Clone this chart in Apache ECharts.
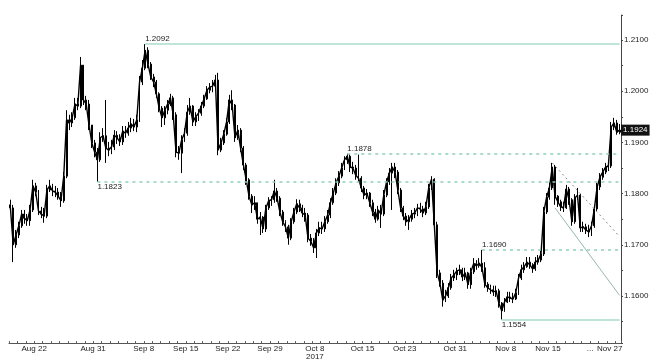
<!DOCTYPE html>
<html><head><meta charset="utf-8">
<script src="https://cdn.jsdelivr.net/npm/echarts/dist/echarts.min.js"></script>
<style>html,body{margin:0;padding:0;background:#fff}#c{width:658px;height:362px}</style>
</head><body><div id="c"></div>
<script>
const days = ['Aug 17','Aug 18','Aug 21','Aug 22','Aug 23','Aug 24','Aug 25','Aug 28','Aug 29','Aug 30','Aug 31',
'Sep 1','Sep 4','Sep 5','Sep 6','Sep 7','Sep 8','Sep 11','Sep 12','Sep 13','Sep 14','Sep 15','Sep 18','Sep 19','Sep 20','Sep 21','Sep 22','Sep 25','Sep 26','Sep 27','Sep 28','Sep 29',
'Oct 2','Oct 3','Oct 4','Oct 5','Oct 6','Oct 9','Oct 10','Oct 11','Oct 12','Oct 13','Oct 16','Oct 17','Oct 18','Oct 19','Oct 20','Oct 23','Oct 24','Oct 25','Oct 26','Oct 27','Oct 30','Oct 31',
'Nov 1','Nov 2','Nov 3','Nov 6','Nov 7','Nov 8','Nov 9','Nov 10','Nov 13','Nov 14','Nov 15','Nov 16','Nov 17','Nov 20','Nov 21','Nov 22','Nov 24','Nov 27','Nov 28'];
const sessions = ['00:00','08:00','16:00'];

const opens = [
1.1778,1.1772,1.1700,1.1719,1.1737,1.1760,1.1752,1.1747,1.1768,1.1815,
1.1803,1.1766,1.1760,1.1756,1.1807,1.1815,1.1805,1.1803,1.1795,1.1786,
1.1834,1.1944,1.1938,1.1948,1.1975,1.1971,1.2051,1.1983,1.1975,1.1934,
1.1899,1.1881,1.1866,1.1909,1.1913,1.1889,1.1885,1.1891,1.1914,1.1909,
1.1901,1.1922,1.1918,1.1928,1.1936,1.1930,1.1944,1.2018,1.2045,1.2080,
1.2053,1.2028,1.2018,1.1995,1.1967,1.1948,1.1963,1.1975,1.1987,1.1954,
1.1881,1.1879,1.1905,1.1918,1.1959,1.1971,1.1940,1.1950,1.1957,1.1971,
1.1985,1.2002,1.2008,1.2010,1.2022,1.1885,1.1899,1.1916,1.1940,1.1983,
1.1973,1.1909,1.1924,1.1889,1.1856,1.1827,1.1795,1.1778,1.1782,1.1750,
1.1754,1.1731,1.1772,1.1786,1.1788,1.1805,1.1791,1.1764,1.1745,1.1735,
1.1713,1.1745,1.1764,1.1780,1.1772,1.1762,1.1758,1.1713,1.1707,1.1694,
1.1723,1.1733,1.1731,1.1745,1.1758,1.1782,1.1801,1.1821,1.1834,1.1850,
1.1866,1.1873,1.1852,1.1850,1.1836,1.1830,1.1811,1.1797,1.1801,1.1782,
1.1764,1.1750,1.1768,1.1760,1.1797,1.1823,1.1840,1.1852,1.1842,1.1807,
1.1772,1.1756,1.1745,1.1750,1.1760,1.1762,1.1772,1.1770,1.1762,1.1774,
1.1811,1.1828,1.1739,1.1645,1.1625,1.1592,1.1600,1.1616,1.1635,1.1641,
1.1649,1.1651,1.1637,1.1645,1.1622,1.1647,1.1663,1.1659,1.1664,1.1655,
1.1623,1.1616,1.1612,1.1608,1.1610,1.1586,1.1571,1.1588,1.1598,1.1596,
1.1594,1.1606,1.1635,1.1651,1.1657,1.1666,1.1661,1.1653,1.1666,1.1670,
1.1682,1.1764,1.1793,1.1811,1.1852,1.1795,1.1784,1.1774,1.1772,1.1809,
1.1788,1.1745,1.1791,1.1797,1.1733,1.1735,1.1729,1.1725,1.1737,1.1770,
1.1813,1.1832,1.1842,1.1852,1.1854,1.1930,1.1938,1.1920];

const closes = [
1.1772,1.1700,1.1719,1.1737,1.1760,1.1752,1.1747,1.1768,1.1815,1.1803,
1.1766,1.1760,1.1756,1.1807,1.1815,1.1805,1.1803,1.1795,1.1786,1.1834,
1.1944,1.1938,1.1948,1.1975,1.1971,1.2051,1.1983,1.1975,1.1934,1.1899,
1.1881,1.1866,1.1909,1.1913,1.1889,1.1885,1.1891,1.1914,1.1909,1.1901,
1.1922,1.1918,1.1928,1.1936,1.1930,1.1944,1.2018,1.2045,1.2080,1.2053,
1.2028,1.2018,1.1995,1.1967,1.1948,1.1963,1.1975,1.1987,1.1954,1.1881,
1.1879,1.1905,1.1918,1.1959,1.1971,1.1940,1.1950,1.1957,1.1971,1.1985,
1.2002,1.2008,1.2010,1.2022,1.1885,1.1899,1.1916,1.1940,1.1983,1.1973,
1.1909,1.1924,1.1889,1.1856,1.1827,1.1795,1.1778,1.1782,1.1750,1.1754,
1.1731,1.1772,1.1786,1.1788,1.1805,1.1791,1.1764,1.1745,1.1735,1.1713,
1.1745,1.1764,1.1780,1.1772,1.1762,1.1758,1.1713,1.1707,1.1694,1.1723,
1.1733,1.1731,1.1745,1.1758,1.1782,1.1801,1.1821,1.1834,1.1850,1.1866,
1.1873,1.1852,1.1850,1.1836,1.1830,1.1811,1.1797,1.1801,1.1782,1.1764,
1.1750,1.1768,1.1760,1.1797,1.1823,1.1840,1.1852,1.1842,1.1807,1.1772,
1.1756,1.1745,1.1750,1.1760,1.1762,1.1772,1.1770,1.1762,1.1774,1.1811,
1.1828,1.1739,1.1645,1.1625,1.1592,1.1600,1.1616,1.1635,1.1641,1.1649,
1.1651,1.1637,1.1645,1.1622,1.1647,1.1663,1.1659,1.1664,1.1655,1.1623,
1.1616,1.1612,1.1608,1.1610,1.1586,1.1571,1.1588,1.1598,1.1596,1.1594,
1.1606,1.1635,1.1651,1.1657,1.1666,1.1661,1.1653,1.1666,1.1670,1.1682,
1.1764,1.1793,1.1811,1.1852,1.1795,1.1784,1.1774,1.1772,1.1809,1.1788,
1.1745,1.1791,1.1797,1.1733,1.1735,1.1729,1.1725,1.1737,1.1770,1.1813,
1.1832,1.1842,1.1852,1.1854,1.1930,1.1938,1.1920,1.1924];

const lows = [
1.1764,1.1666,1.1694,1.1713,1.1733,1.1741,1.1737,1.1737,1.1764,1.1795,
1.1758,1.1752,1.1743,1.1752,1.1803,1.1795,1.1793,1.1788,1.1774,1.1782,
1.1830,1.1924,1.1930,1.1944,1.1963,1.1967,1.1973,1.1963,1.1924,1.1889,
1.1871,1.1823,1.1862,1.1901,1.1860,1.1873,1.1877,1.1885,1.1897,1.1893,
1.1895,1.1909,1.1913,1.1920,1.1922,1.1920,1.1940,1.2012,1.2041,1.2045,
1.2022,1.2008,1.1987,1.1959,1.1930,1.1934,1.1955,1.1971,1.1944,1.1871,
1.1866,1.1840,1.1901,1.1913,1.1954,1.1932,1.1932,1.1942,1.1952,1.1967,
1.1983,1.1996,1.1998,1.2006,1.1875,1.1881,1.1895,1.1913,1.1936,1.1963,
1.1901,1.1905,1.1881,1.1846,1.1817,1.1788,1.1762,1.1768,1.1741,1.1719,
1.1723,1.1725,1.1768,1.1776,1.1782,1.1784,1.1756,1.1737,1.1725,1.1700,
1.1709,1.1741,1.1760,1.1764,1.1754,1.1745,1.1705,1.1698,1.1684,1.1674,
1.1717,1.1721,1.1725,1.1741,1.1752,1.1778,1.1797,1.1815,1.1830,1.1846,
1.1858,1.1842,1.1838,1.1827,1.1823,1.1803,1.1789,1.1789,1.1774,1.1756,
1.1743,1.1747,1.1733,1.1756,1.1793,1.1817,1.1768,1.1830,1.1799,1.1764,
1.1748,1.1737,1.1729,1.1745,1.1752,1.1756,1.1762,1.1754,1.1758,1.1770,
1.1807,1.1729,1.1635,1.1618,1.1579,1.1588,1.1596,1.1612,1.1629,1.1631,
1.1641,1.1629,1.1631,1.1614,1.1614,1.1643,1.1651,1.1655,1.1647,1.1616,
1.1608,1.1604,1.1600,1.1598,1.1577,1.1554,1.1569,1.1586,1.1588,1.1586,
1.1592,1.1602,1.1631,1.1645,1.1655,1.1653,1.1645,1.1649,1.1661,1.1666,
1.1678,1.1760,1.1788,1.1807,1.1778,1.1774,1.1766,1.1764,1.1770,1.1778,
1.1737,1.1741,1.1788,1.1725,1.1725,1.1721,1.1715,1.1717,1.1733,1.1766,
1.1807,1.1827,1.1838,1.1844,1.1850,1.1924,1.1915,1.1916];

const highs = [
1.1788,1.1778,1.1729,1.1745,1.1768,1.1768,1.1760,1.1778,1.1827,1.1821,
1.1807,1.1774,1.1772,1.1817,1.1827,1.1819,1.1815,1.1811,1.1803,1.1842,
1.1963,1.1954,1.1959,1.1987,1.1987,1.2067,1.2041,1.1991,1.1983,1.1934,
1.1905,1.1889,1.1920,1.1928,1.1983,1.1901,1.1905,1.1924,1.1922,1.1916,
1.1932,1.1932,1.1940,1.1948,1.1946,1.1954,1.2030,1.2061,1.2092,1.2086,
1.2057,1.2034,1.2022,1.1998,1.1971,1.1971,1.1983,1.1995,1.1991,1.1959,
1.1893,1.1914,1.1928,1.1973,1.1987,1.1973,1.1959,1.1965,1.1979,1.1993,
1.2010,1.2016,1.2022,1.2032,1.2036,1.1909,1.1924,1.1948,1.1993,1.2002,
1.1975,1.1934,1.1928,1.1893,1.1860,1.1830,1.1799,1.1795,1.1782,1.1764,
1.1756,1.1778,1.1793,1.1795,1.1827,1.1811,1.1795,1.1768,1.1748,1.1739,
1.1752,1.1772,1.1789,1.1788,1.1778,1.1772,1.1762,1.1721,1.1713,1.1731,
1.1745,1.1745,1.1756,1.1768,1.1791,1.1811,1.1830,1.1844,1.1860,1.1873,
1.1878,1.1877,1.1862,1.1856,1.1876,1.1834,1.1815,1.1809,1.1803,1.1788,
1.1770,1.1776,1.1778,1.1807,1.1830,1.1850,1.1860,1.1860,1.1846,1.1811,
1.1776,1.1762,1.1758,1.1768,1.1772,1.1780,1.1782,1.1776,1.1784,1.1819,
1.1834,1.1830,1.1745,1.1651,1.1631,1.1612,1.1625,1.1643,1.1651,1.1655,
1.1661,1.1655,1.1655,1.1647,1.1655,1.1674,1.1670,1.1674,1.1690,1.1666,
1.1627,1.1622,1.1620,1.1620,1.1614,1.1588,1.1596,1.1608,1.1608,1.1606,
1.1614,1.1643,1.1661,1.1666,1.1676,1.1676,1.1664,1.1676,1.1680,1.1690,
1.1774,1.1801,1.1821,1.1860,1.1856,1.1797,1.1788,1.1784,1.1817,1.1813,
1.1791,1.1799,1.1811,1.1799,1.1745,1.1741,1.1739,1.1745,1.1778,1.1821,
1.1840,1.1850,1.1860,1.1864,1.1940,1.1948,1.1944,1.1936];

const xLabelText = ['Aug 22','Aug 31','Sep 8','Sep 15','Sep 22','Sep 29','Oct 8\n2017','Oct 15','Oct 23','Oct 31','Nov 8','Nov 15','...','Nov 27'];
const xLabelBar  = [9,30,48,63,78,93,109,126,141,159,177,192,207,214];

// horizontal levels: value, bar where the level begins, dashed?, label below?
const levelValues = [1.2092, 1.1878, 1.1823, 1.1690, 1.1554];
const levelStart  = [48, 120, 31, 168, 175];
const levelDashed = [false, true, true, true, false];
const levelBelow  = [false, false, true, false, true];
const lastPrice = 1.1924;
const trendDotted = [[193, 1.1860], [217, 1.1716]];
const trendSolid  = [[194, 1.1772], [217, 1.1601]];

const categories = [];
days.forEach(d => sessions.forEach(s => categories.push(d + ' ' + s)));
categories.length = opens.length;
const ohlc = opens.map((o, i) => [o, closes[i], lows[i], highs[i]]);
const lastIdx = categories.length - 1;

const FONT = 'Liberation Sans Narrow, Liberation Sans, Arial, sans-serif';
const labelMap = {};
xLabelBar.forEach((b, k) => { labelMap[b] = xLabelText[k]; });

const markData = [];
levelValues.forEach((v, k) => {
  markData.push([
    { coord: [categories[levelStart[k]], v],
      lineStyle: { color: levelDashed[k] ? '#8fd0bb' : '#a9dccb', width: 1.5, type: levelDashed[k] ? [3, 4] : 'solid' },
      label: { show: true, formatter: v.toFixed(4), position: levelBelow[k] ? 'insideStartBottom' : 'insideStartTop',
               distance: [0, 1], color: '#222', fontSize: 8, fontFamily: FONT } },
    { coord: [categories[lastIdx], v] }
  ]);
});
markData.push([
  { coord: [categories[trendDotted[0][0]], trendDotted[0][1]], lineStyle: { color: '#8a8a8a', width: 1, type: [2, 3] }, label: { show: false } },
  { coord: [categories[trendDotted[1][0]], trendDotted[1][1]] }
]);
markData.push([
  { coord: [categories[trendSolid[0][0]], trendSolid[0][1]], lineStyle: { color: '#98b8ae', width: 1, type: 'solid' }, label: { show: false } },
  { coord: [categories[trendSolid[1][0]], trendSolid[1][1]] }
]);

const chart = echarts.init(document.getElementById('c'), null, { renderer: 'canvas' });
chart.setOption({
  animation: false,
  backgroundColor: '#fff',
  grid: { left: 9, right: 37, top: 15, bottom: 19 },
  xAxis: {
    type: 'category', data: categories, boundaryGap: true,
    axisLine: { lineStyle: { color: '#555', width: 1 } },
    axisTick: { show: true, inside: true, length: 2, interval: (i) => i % 3 === 0, lineStyle: { color: '#666' } },
    axisLabel: { show: true, interval: (i) => labelMap[i] !== undefined, formatter: (v, i) => labelMap[i] || '',
                 fontSize: 8, lineHeight: 8, color: '#222', margin: 2, fontFamily: FONT, padding: [0, 3, 0, 0] },
    splitLine: { show: false }
  },
  yAxis: {
    type: 'value', position: 'right', min: 1.1508, max: 1.2149, splitNumber: 13, scale: true,
    axisLine: { show: true, lineStyle: { color: '#444', width: 1 } },
    axisTick: { show: true, length: 2, lineStyle: { color: '#444' } },
    axisLabel: { fontSize: 8, color: '#222', margin: 3, fontFamily: FONT,
                 formatter: (v) => Math.abs(v * 100 - Math.round(v * 100)) < 1e-6 ? v.toFixed(4) : '' },
    splitLine: { show: false }
  },
  series: [{
    type: 'candlestick', data: ohlc, barMaxWidth: 2.2,
    itemStyle: { color: '#000', color0: '#000', borderColor: '#000', borderColor0: '#000', borderWidth: 1 },
    markLine: { silent: true, symbol: ['none', 'none'], animation: false, data: markData }
  }, {
    type: 'line', data: closes, symbol: 'none', silent: true,
    lineStyle: { color: '#000', width: 1.4 },
    markPoint: { silent: true, animation: false, data: [{
      coord: [categories[lastIdx], lastPrice], symbol: 'rect', symbolSize: 1, itemStyle: { color: 'transparent' },
      label: { show: true, position: 'right', distance: 1, formatter: lastPrice.toFixed(4), color: '#fff', backgroundColor: '#111',
               padding: [2, 2, 1, 2], fontSize: 8, fontFamily: FONT, verticalAlign: 'middle' }
    }] }
  }]
});
</script>
</body></html>
